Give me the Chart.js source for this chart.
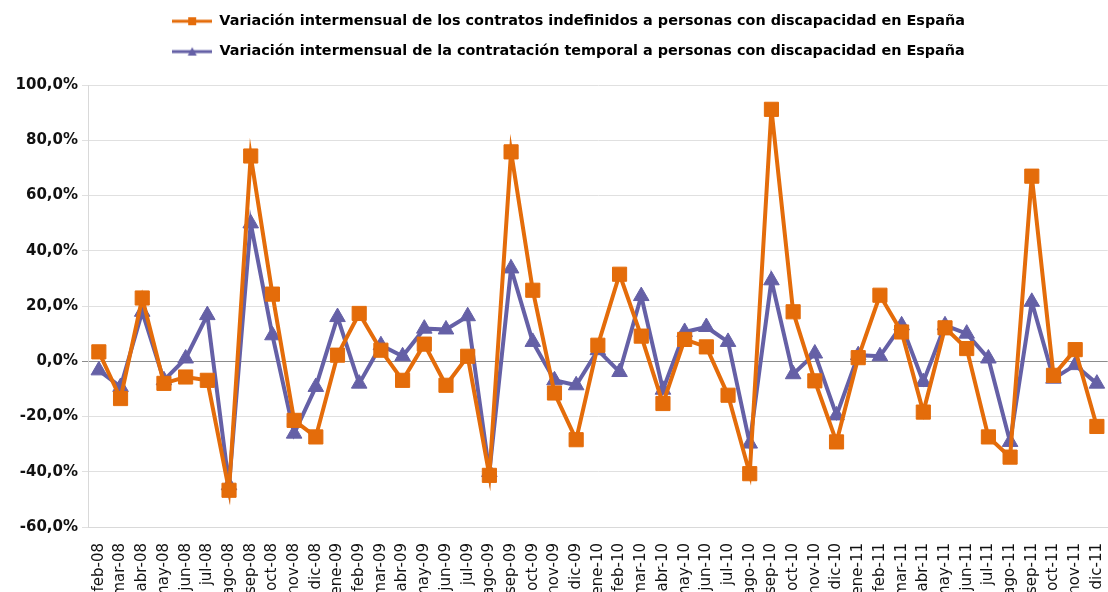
<!DOCTYPE html>
<html>
<head>
<meta charset="utf-8">
<script src="https://cdn.jsdelivr.net/npm/chart.js@4/dist/chart.umd.min.js"></script>
<style>
  html, body { margin: 0; padding: 0; background: #fff; overflow: hidden; }
  /* a bit wider than the window: the original plot runs off the right edge */
  #wrap { width: 1123px; height: 592px; }
</style>
</head>
<body>
<div id="wrap"><canvas id="chart"></canvas></div>
<script>
const months = [
  "feb-08", "mar-08", "abr-08", "may-08", "jun-08", "jul-08", "ago-08", "sep-08", "oct-08", "nov-08", "dic-08",
  "ene-09", "feb-09", "mar-09", "abr-09", "may-09", "jun-09", "jul-09", "ago-09", "sep-09", "oct-09", "nov-09", "dic-09",
  "ene-10", "feb-10", "mar-10", "abr-10", "may-10", "jun-10", "jul-10", "ago-10", "sep-10", "oct-10", "nov-10", "dic-10",
  "ene-11", "feb-11", "mar-11", "abr-11", "may-11", "jun-11", "jul-11", "ago-11", "sep-11", "oct-11", "nov-11", "dic-11"
];

// contratos indefinidos (%)
const indefinidos = [
  3.4, -13.5, 22.9, -8.0, -5.7, -6.9, -46.7, 74.3, 24.3, -21.4, -27.4,
  2.2, 17.3, 4.0, -6.9, 6.2, -8.7, 1.8, -41.3, 75.8, 25.7, -11.5, -28.4,
  5.8, 31.5, 9.1, -15.3, 7.9, 5.2, -12.3, -40.7, 91.2, 17.9, -7.1, -29.2,
  1.3, 23.9, 10.6, -18.4, 12.1, 4.6, -27.4, -34.7, 67.0, -5.1, 4.2, -23.6
];

// contratación temporal (%)
const temporal = [
  -3.3, -9.3, 17.9, -6.9, 1.0, 16.7, -44.9, 49.9, 9.4, -26.2, -9.3,
  16.0, -8.1, 5.8, 1.8, 11.8, 11.5, 16.3, -40.1, 33.6, 7.0, -6.9, -8.7,
  4.0, -3.9, 23.6, -10.3, 10.6, 12.4, 7.0, -29.8, 29.3, -4.7, 2.8, -19.6,
  2.2, 1.8, 13.0, -7.5, 13.0, 10.0, 1.0, -29.2, 21.5, -6.3, -1.4, -8.1
];

const seriesNames = [
  "Variación intermensual de los contratos indefinidos a personas con discapacidad en España",
  "Variación intermensual de la contratación temporal a personas con discapacidad en España"
];

const ORANGE = "#E46C0A";
const PURPLE = "#6560A6";

// little line+marker icon for the legend, like the spreadsheet one
function legendIcon(color, shape) {
  const c = document.createElement("canvas");
  c.width = 40; c.height = 12;
  const g = c.getContext("2d");
  g.strokeStyle = color;
  g.lineWidth = 3;
  g.beginPath(); g.moveTo(0, 6); g.lineTo(40, 6); g.stroke();
  g.fillStyle = color;
  if (shape === "rect") {
    g.fillRect(16, 2, 8, 8);
  } else {
    g.beginPath(); g.moveTo(20, 1.5); g.lineTo(24.5, 10); g.lineTo(15.5, 10); g.closePath(); g.fill();
  }
  return c;
}
const icons = [legendIcon(ORANGE, "rect"), legendIcon(PURPLE, "triangle")];

// legend: fixed height, small nudge so it sits where the original one does
const legendTweak = {
  id: "legendTweak",
  beforeInit(chart) {
    const fit = chart.legend.fit;
    chart.legend.fit = function () {
      fit.bind(chart.legend)();
      this.height = 85;
    };
  },
  afterLayout(chart) {
    chart.legend.left += 7;
    chart.legend.right += 7;
    chart.legend.top -= 2;
    chart.legend.bottom -= 2;
  }
};

const ctx = document.getElementById("chart").getContext("2d");
new Chart(ctx, {
  type: "line",
  data: {
    labels: months,
    datasets: [
      {
        label: seriesNames[0], data: indefinidos,
        borderColor: ORANGE, backgroundColor: ORANGE, borderWidth: 4,
        pointStyle: "rect", pointRadius: 10, pointBorderWidth: 1, tension: 0
      },
      {
        label: seriesNames[1], data: temporal,
        borderColor: PURPLE, backgroundColor: PURPLE, borderWidth: 4,
        pointStyle: "triangle", pointRadius: 9, pointBorderWidth: 1, tension: 0
      }
    ]
  },
  options: {
    responsive: true,
    maintainAspectRatio: false,
    animation: false,
    layout: { padding: 0 },
    plugins: {
      tooltip: { enabled: false },
      legend: {
        position: "top",
        align: "center",
        labels: {
          usePointStyle: true,
          pointStyleWidth: 40,
          padding: 16,
          color: "#1a1a1a",
          font: { family: "DejaVu Sans", size: 14.4, weight: "bold" },
          generateLabels: (chart) => chart.data.datasets.map((ds, i) => ({
            text: ds.label, pointStyle: icons[i], fillStyle: ds.borderColor,
            strokeStyle: ds.borderColor, lineWidth: 0, hidden: false, datasetIndex: i
          }))
        }
      }
    },
    scales: {
      x: {
        offset: true,
        grid: { display: false },
        border: { display: true, color: "#d9d9d9" },
        ticks: {
          autoSkip: false, minRotation: 90, maxRotation: 90, padding: 8,
          color: "#111",
          font: { family: "DejaVu Sans", size: 15 }
        },
        afterFit(scale) { scale.height = 65; }
      },
      y: {
        min: -60, max: 100,
        grid: {
          color: (c) => c.tick && c.tick.value === 0 ? "#8c8c8c" : "#e0e0e0",
          tickLength: 6
        },
        border: { display: true, color: "#d9d9d9" },
        ticks: {
          stepSize: 20, padding: 4,
          color: "#111",
          font: { family: "DejaVu Sans", size: 15, weight: "bold" },
          callback: (v) => v.toFixed(1).replace(".", ",") + "%"
        },
        afterFit(scale) { scale.width = 88; }
      }
    }
  },
  plugins: [legendTweak]
});
</script>
</body>
</html>
